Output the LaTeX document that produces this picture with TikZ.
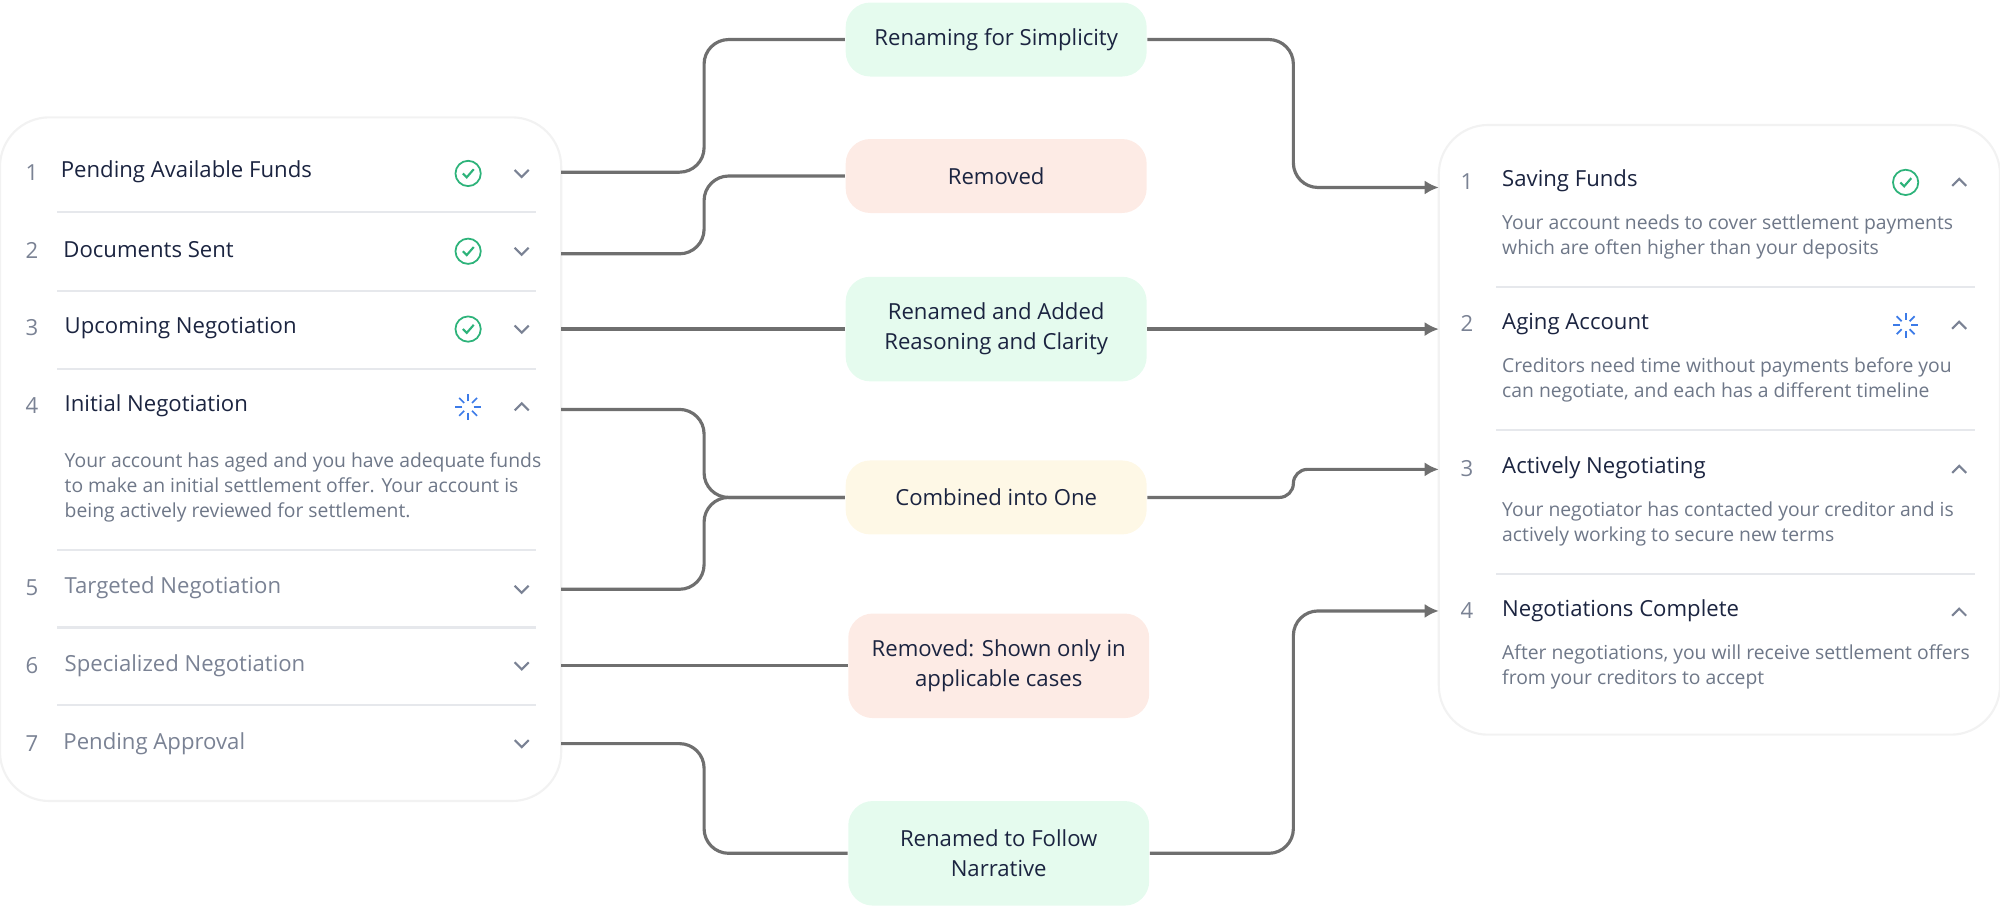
\documentclass[tikz,border=0pt]{standalone}
\usepackage{fontspec}
\setmainfont{Open Sans}
\usetikzlibrary{arrows.meta,positioning}
\definecolor{navy}{HTML}{1B2440}
\definecolor{numgrey}{HTML}{7A8294}
\definecolor{txtgrey}{HTML}{6E7788}
\definecolor{okgreen}{HTML}{2DB37A}
\definecolor{spinblue}{HTML}{3C7BE8}
\definecolor{linegrey}{HTML}{6F6F6F}
\definecolor{sepgrey}{HTML}{E6E8EC}
\definecolor{boxgreen}{HTML}{E5FBEE}
\definecolor{boxred}{HTML}{FDEBE5}
\definecolor{boxyellow}{HTML}{FEF8E6}
\tikzset{
  card/.style={draw=black!5, fill=white, rounded corners=14pt, line width=0.6pt},
  change/.style={rounded corners=7pt, minimum width=3.01cm, minimum height=0.74cm, align=center, font=\fontsize{6.3}{8.6}\selectfont, text=navy},
  tall/.style={minimum height=1.046cm},
  num/.style={anchor=center, font=\fontsize{6.3}{8}\selectfont, text=numgrey},
  title/.style={anchor=west, font=\fontsize{6.3}{8}\selectfont, text=navy},
  dimtitle/.style={title, text=numgrey},
  desc/.style={anchor=west, font=\fontsize{5.5}{7.2}\selectfont, text=txtgrey, align=left},
  sep/.style={draw=sepgrey, line width=0.6pt},
  link/.style={draw=linegrey, line width=0.9pt, rounded corners=7pt},
  arrow/.style={link, -{Latex[length=4pt,width=4pt]}},
  chev/.style={draw=numgrey, line width=0.6pt},
  pics/okmark/.style={code={
    \draw[okgreen, line width=0.5pt] (0,0) circle (3.6pt);
    \draw[okgreen, line width=0.6pt] (-1.5pt,0) -- (-0.4pt,-1.1pt) -- (1.6pt,1.2pt);}},
  pics/spin/.style={code={
    \foreach \a in {0,45,...,315}
      \draw[spinblue, line width=0.5pt] (\a:1.6pt) -- (\a:3.6pt);}},
  pics/down/.style={code={\draw[chev] (-2pt,1pt) -- (0,-1pt) -- (2pt,1pt);}},
  pics/up/.style={code={\draw[chev] (-2pt,-1pt) -- (0,1pt) -- (2pt,-1pt);}},
}
\begin{document}
\begin{tikzpicture}[x=0.012755cm, y=-0.012755cm]
  \useasboundingbox (0,0) rectangle (1568,714);

  % Left card
  \draw[card] (0,92) rectangle (440,628);
  \foreach \y in {166,228,289,431,492,553} \draw[sep] (45,\y) -- (420,\y);
  \node[num] at (25,135) {1}; \node[title] (l1) at (38,135) {Pending Available Funds};
  \node[num] at (25,196) {2}; \node[title] (l2) at (40,196) {Documents Sent};
  \node[num] at (25,257) {3}; \node[title] (l3) at (41,257) {Upcoming Negotiation};
  \node[num] at (25,318) {4}; \node[title] (l4) at (41,318) {Initial Negotiation};
  \node[desc] at (41,382) {Your account has aged and you have adequate funds\\to make an initial settlement offer. Your account is\\being actively reviewed for settlement.};
  \node[num] at (25,461) {5}; \node[dimtitle] (l5) at (41,461) {Targeted Negotiation};
  \node[num] at (25,522) {6}; \node[dimtitle] (l6) at (41,522) {Specialized Negotiation};
  \node[num] at (25,583) {7}; \node[dimtitle] (l7) at (40,583) {Pending Approval};
  \foreach \y in {136,197,258} \pic at (367,\y) {okmark};
  \pic at (367,319) {spin};
  \foreach \y in {136,197,258,462,522,583} \pic at (409,\y) {down};
  \pic at (409,319) {up};

  % Right card
  \draw[card] (1128,98) rectangle (1568,576);
  \foreach \y in {225,337,450} \draw[sep] (1173,\y) -- (1548,\y);
  \node[num] at (1150,142) {1}; \node[title] (r1) at (1168,142) {Saving Funds};
  \node[desc] at (1168,186) {Your account needs to cover settlement payments\\which are often higher than your deposits};
  \node[num] at (1150,254) {2}; \node[title] (r2) at (1168,254) {Aging Account};
  \node[desc] at (1168,298) {Creditors need time without payments before you\\can negotiate, and each has a different timeline};
  \node[num] at (1150,367) {3}; \node[title] (r3) at (1168,367) {Actively Negotiating};
  \node[desc] at (1168,411) {Your negotiator has contacted your creditor and is\\actively working to secure new terms};
  \node[num] at (1150,479) {4}; \node[title] (r4) at (1168,479) {Negotiations Complete};
  \node[desc] at (1168,523) {After negotiations, you will receive settlement offers\\from your creditors to accept};
  \pic at (1494,143) {okmark};
  \pic at (1494,255) {spin};
  \foreach \y in {143,255,368,480} \pic at (1536,\y) {up};

  % Change boxes
  \node[change, fill=boxgreen] (rename) at (781,31) {Renaming for Simplicity};
  \node[change, fill=boxred] (removed) at (781,138) {Removed};
  \node[change, tall, fill=boxgreen] (reason) at (781,258) {Renamed and Added\\Reasoning and Clarity};
  \node[change, fill=boxyellow] (combined) at (781,390) {Combined into One};
  \node[change, tall, fill=boxred] (shown) at (783,522) {Removed: Shown only in\\applicable cases};
  \node[change, tall, fill=boxgreen] (narrative) at (783,669) {Renamed to Follow\\Narrative};

  % Connector ends
  \coordinate (o1) at (440,135); \coordinate (o2) at (440,199);
  \coordinate (o3) at (440,258); \coordinate (o4) at (440,321);
  \coordinate (o5) at (440,462); \coordinate (o6) at (440,522);
  \coordinate (o7) at (440,583);
  \coordinate (i1) at (1128,147); \coordinate (i2) at (1128,258);
  \coordinate (i3) at (1128,368); \coordinate (i4) at (1128,479);

  \draw[link] (o1) -| (552,31) -- (rename.west);
  \draw[link] (o2) -| (552,138) -- (removed.west);
  \draw[link] (o3) -- (reason.west);
  \draw[link] (o4) -| (552,390) -- (combined.west);
  \draw[link] (o5) -| (552,390) -- (combined.west);
  \draw[link] (o6) -- (shown.west);
  \draw[link] (o7) -| (552,669) -- (narrative.west);

  \draw[arrow] (rename.east) -| (1014,147) -- (i1);
  \draw[arrow] (reason.east) -- (i2);
  \draw[arrow, rounded corners=4pt] (combined.east) -| (1014,368) -- (i3);
  \draw[arrow] (narrative.east) -| (1014,479) -- (i4);
\end{tikzpicture}
\end{document}
